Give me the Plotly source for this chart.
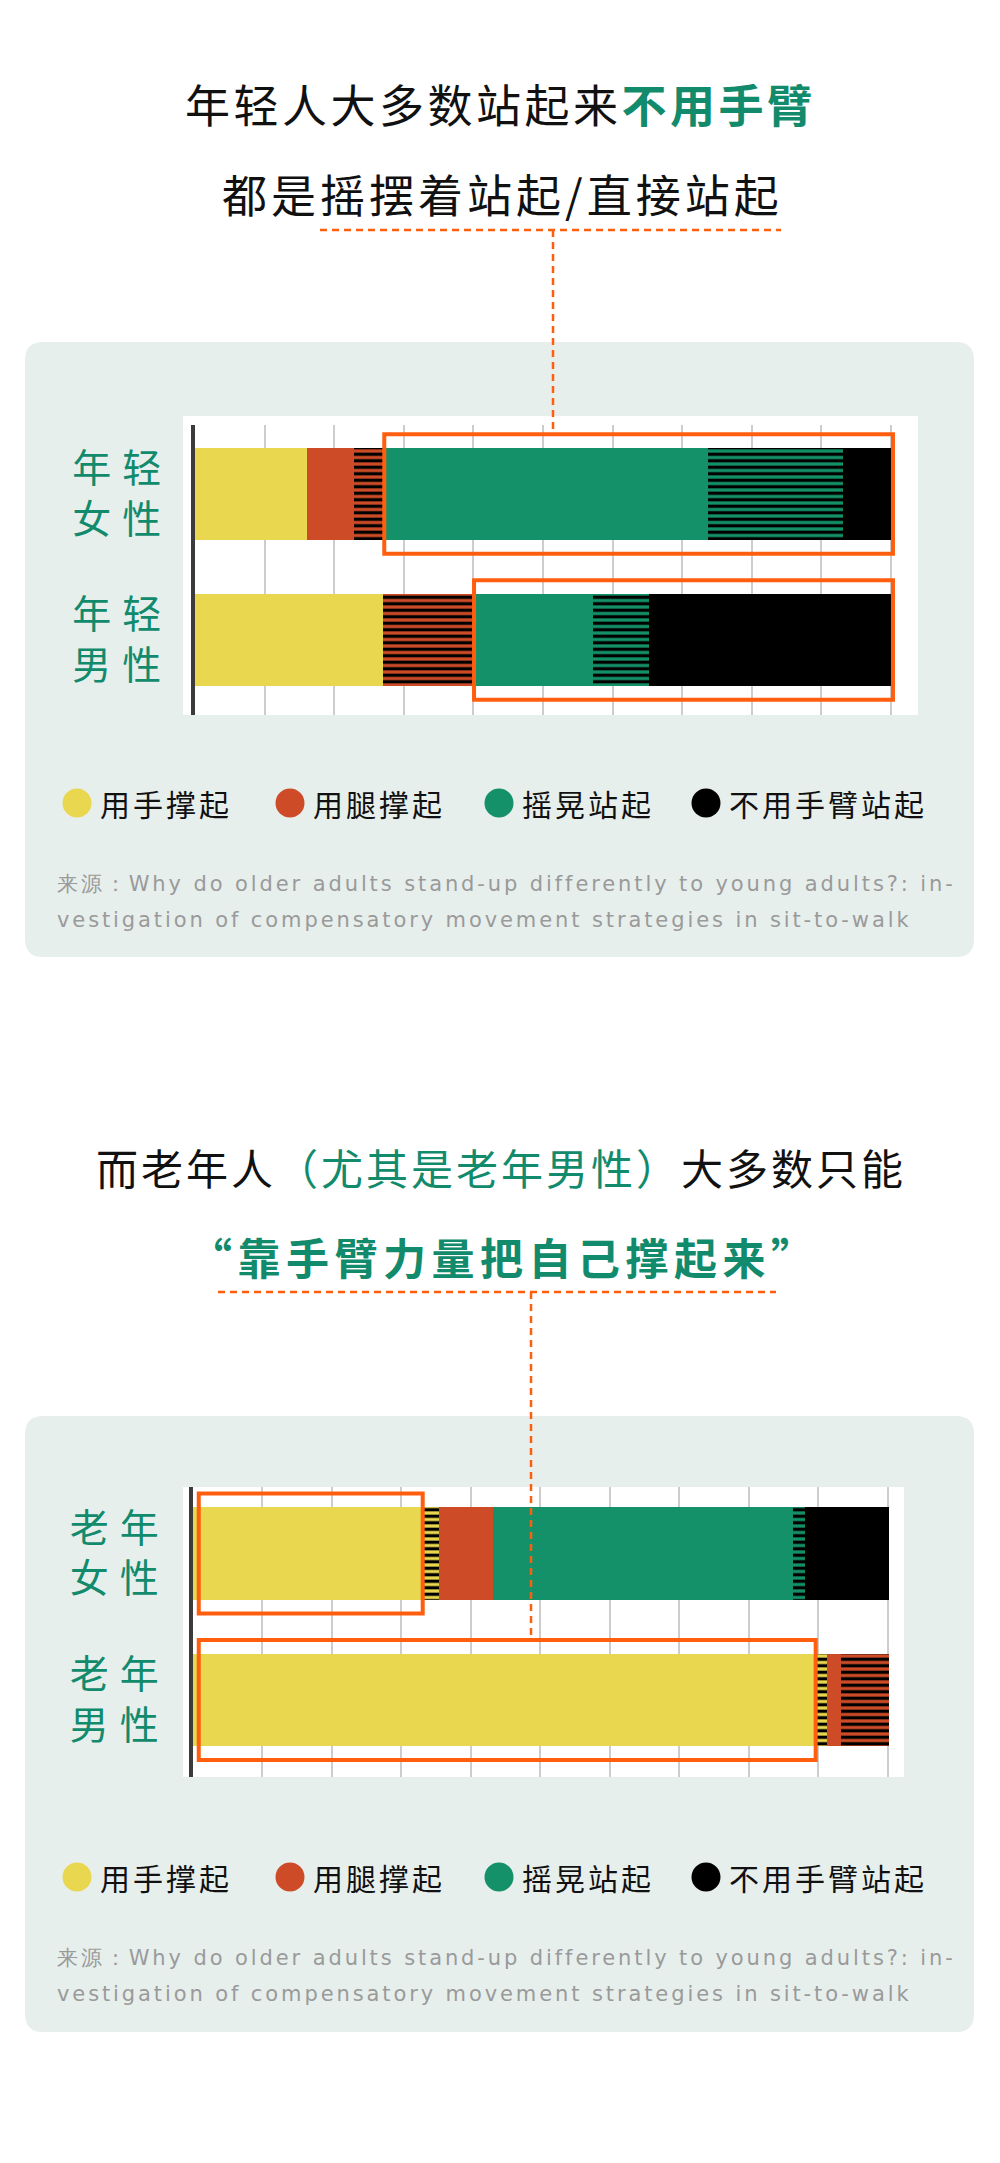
import plotly.graph_objects as go

W, H = 1000, 2163
OFF = 8  # the page body adds an 8px margin around the figure

# ---------------- data ----------------
categories = ["用手撑起", "用腿撑起", "摇晃站起", "不用手臂站起"]
category_colors = ["#e8d74f", "#cd4c27", "#149168", "#000000"]

young_groups = ["年轻女性", "年轻男性"]
young_hand = [16.1, 27.0]
young_hand_mixed = [0.0, 0.0]
young_leg = [6.8, 0.0]
young_leg_mixed = [4.3, 13.1]
young_sway = [46.5, 17.1]
young_sway_mixed = [19.4, 8.0]
young_noarm = [6.9, 34.8]

old_groups = ["老年女性", "老年男性"]
old_hand = [33.1, 89.6]
old_hand_mixed = [2.2, 1.6]
old_leg = [7.8, 1.9]
old_leg_mixed = [0.0, 6.9]
old_sway = [43.1, 0.0]
old_sway_mixed = [1.8, 0.0]
old_noarm = [12.0, 0.0]

source_text_1 = "来源：Why do older adults stand-up differently to young adults?: in-"
source_text_2 = "vestigation of compensatory movement strategies in sit-to-walk"

TEAL = "#128a6c"
ORANGE = "#ff5e0e"
PANEL = "#e7efed"
CJK = "Noto Sans CJK SC"


def px(x):
    return (x - OFF) / W


def py(y):
    return 1 - (y - OFF) / H


def spaced(text, ls):
    return f"<span style='letter-spacing:{ls}px'>{text}</span>"


fig = go.Figure()


def add_bars(groups, series, xa, ya):
    names = [categories[0], categories[0], categories[1], categories[1],
             categories[2], categories[2], categories[3]]
    cols = [category_colors[0], category_colors[0], category_colors[1], category_colors[1],
            category_colors[2], category_colors[2], category_colors[3]]
    striped = [False, True, False, True, False, True, False]
    for vals, nm, col, st in zip(series, names, cols, striped):
        marker = dict(color=col, line=dict(width=0))
        if st:
            marker["pattern"] = dict(shape="-", fgcolor="#000000", bgcolor=col,
                                     size=6.5, solidity=0.5, fillmode="replace")
        fig.add_trace(go.Bar(
            y=groups, x=vals, orientation="h", name=nm, marker=marker,
            width=0.63, showlegend=False, xaxis=xa, yaxis=ya, hoverinfo="skip"))


add_bars(young_groups, [young_hand, young_hand_mixed, young_leg, young_leg_mixed,
                        young_sway, young_sway_mixed, young_noarm], "x", "y")
add_bars(old_groups, [old_hand, old_hand_mixed, old_leg, old_leg_mixed,
                      old_sway, old_sway_mixed, old_noarm], "x2", "y2")


def tick_text(groups):
    return [spaced(g[:2], 11) + "<br>" + spaced(g[2:], 11) for g in groups]


xcommon = dict(tick0=0, dtick=10, showgrid=True, gridcolor="#cdcdcd", gridwidth=2,
               showticklabels=False, zeroline=False, ticks="", fixedrange=True)
ycommon = dict(type="category", showline=True, linecolor="#3b3b3b", linewidth=4,
               ticks="", showgrid=False, ticklabelstandoff=11,
               tickfont=dict(family=CJK, size=39, color=TEAL))

fig.update_layout(
    xaxis=dict(domain=[px(195), px(918)], range=[0, 103.9], anchor="y", **xcommon),
    yaxis=dict(domain=[py(715), py(425)], range=[1.514, -0.473], anchor="x",
               tickvals=young_groups, ticktext=tick_text(young_groups), **ycommon),
    xaxis2=dict(domain=[px(192.5), px(904)], range=[0, 102.3], anchor="y2", **xcommon),
    yaxis2=dict(domain=[py(1777), py(1487)], range=[1.526, -0.454], anchor="x2",
                tickvals=old_groups, ticktext=tick_text(old_groups), **ycommon),
)

shapes = []


def rounded_rect(x0, y0, x1, y1, r, color):
    p = (f"M {px(x0 + r)} {py(y0)} L {px(x1 - r)} {py(y0)} Q {px(x1)} {py(y0)} {px(x1)} {py(y0 + r)} "
         f"L {px(x1)} {py(y1 - r)} Q {px(x1)} {py(y1)} {px(x1 - r)} {py(y1)} "
         f"L {px(x0 + r)} {py(y1)} Q {px(x0)} {py(y1)} {px(x0)} {py(y1 - r)} "
         f"L {px(x0)} {py(y0 + r)} Q {px(x0)} {py(y0)} {px(x0 + r)} {py(y0)} Z")
    return dict(type="path", path=p, xref="paper", yref="paper", fillcolor=color,
                line=dict(width=0), layer="below")


# panels and white plot backgrounds
shapes.append(rounded_rect(25, 342, 974, 957, 18, PANEL))
shapes.append(dict(type="rect", xref="paper", yref="paper", x0=px(183), x1=px(918),
                   y0=py(715), y1=py(416), fillcolor="white", line=dict(width=0), layer="below"))
shapes.append(rounded_rect(25, 1416, 974, 2032, 18, PANEL))
shapes.append(dict(type="rect", xref="paper", yref="paper", x0=px(183), x1=px(904),
                   y0=py(1777), y1=py(1487), fillcolor="white", line=dict(width=0), layer="below"))

# highlight boxes (derived from the data)
box_style = dict(type="rect", line=dict(color=ORANGE, width=4), fillcolor="rgba(0,0,0,0)", layer="above")
for i in range(2):
    start = young_hand[i] + young_hand_mixed[i] + young_leg[i] + young_leg_mixed[i]
    shapes.append(dict(xref="x", yref="y", x0=start, x1=100.3, y0=i - 0.41, y1=i + 0.41, **box_style))
for i in range(2):
    shapes.append(dict(xref="x2", yref="y2", x0=0.9, x1=old_hand[i], y0=i - 0.41, y1=i + 0.41, **box_style))

# dashed connectors
dash = dict(color=ORANGE, width=2.5, dash="7px,5px")
shapes.append(dict(type="line", xref="paper", yref="paper", x0=px(320), x1=px(781),
                   y0=py(230), y1=py(230), line=dash, layer="above"))
shapes.append(dict(type="line", xref="paper", yref="paper", x0=px(553), x1=px(553),
                   y0=py(230), y1=py(432), line=dash, layer="above"))
shapes.append(dict(type="line", xref="paper", yref="paper", x0=px(218), x1=px(776),
                   y0=py(1292), y1=py(1292), line=dash, layer="above"))
shapes.append(dict(type="line", xref="paper", yref="paper", x0=px(531), x1=px(531),
                   y0=py(1292), y1=py(1638), line=dash, layer="above"))

annotations = []


def ann(text, x, y, size, color="#111111", xanchor="center", family=CJK):
    annotations.append(dict(text=text, x=px(x), y=py(y), xref="paper", yref="paper",
                            xanchor=xanchor, yanchor="middle", showarrow=False,
                            font=dict(family=family, size=size, color=color)))


# titles
ann(spaced("年轻人大多数站起来", 3.5) + f"<span style='color:{TEAL}'><b>" + spaced("不用手臂", 3.5) + "</b></span>",
    500, 104, 45)
ann(spaced("都是摇摆着站起/直接站起", 4), 502, 194, 45)
ann(spaced("而老年人", 3) + f"<span style='color:{TEAL}'>" + spaced("（尤其是老年男性）", 3) + "</span>"
    + spaced("大多数只能", 3), 501, 1166, 42)
ann(f"<b>{spaced('“靠手臂力量把自己撑起来”', 5.5)}</b>", 504, 1256, 43, color=TEAL)

# legends
legend_x = [77, 290, 499, 706]
for ly in (803, 1877):
    for lx, name, col in zip(legend_x, categories, category_colors):
        shapes.append(dict(type="circle", xref="paper", yref="paper",
                           x0=px(lx - 14.5), x1=px(lx + 14.5), y0=py(ly + 14.5), y1=py(ly - 14.5),
                           fillcolor=col, line=dict(width=0), layer="above"))
        ann(spaced(name, 3), lx + 21, ly, 30, color="#111111", xanchor="left")

# sources
for y1, y2 in ((884, 920), (1958, 1994)):
    ann(spaced(source_text_1, 2.9), 55, y1, 21, color="#9a9a9a", xanchor="left", family="DejaVu Sans")
    ann(spaced(source_text_2, 2.9), 55, y2, 21, color="#9a9a9a", xanchor="left", family="DejaVu Sans")

fig.update_layout(
    width=W, height=H, margin=dict(l=0, r=0, t=0, b=0),
    paper_bgcolor="white", plot_bgcolor="rgba(0,0,0,0)",
    barmode="stack", bargap=0, showlegend=False,
    font=dict(family=CJK), shapes=shapes, annotations=annotations,
)

fig.write_html("out.html")
